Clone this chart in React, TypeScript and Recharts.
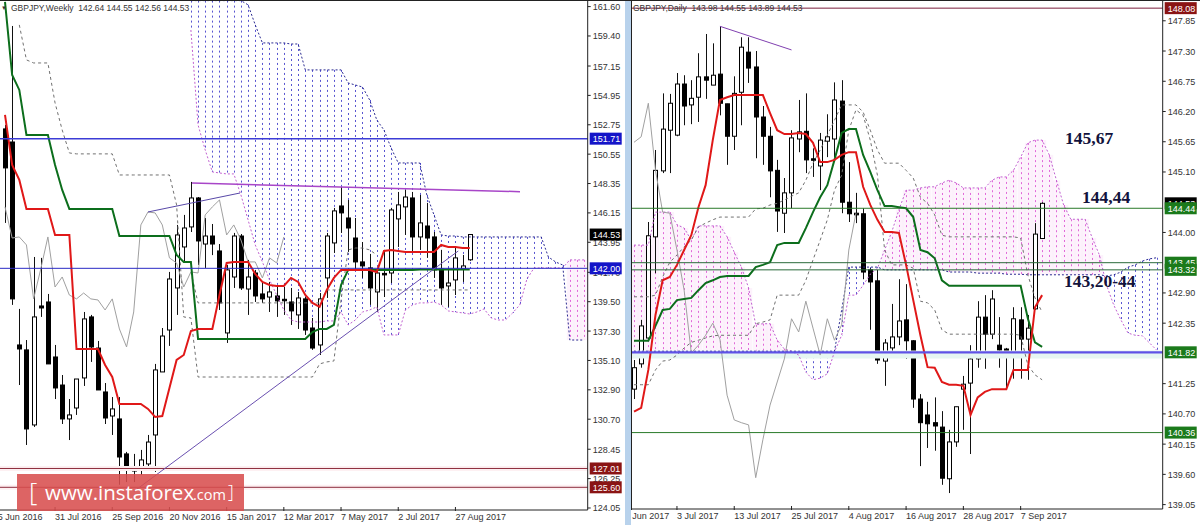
import { Bar, ComposedChart, Line, ReferenceLine, XAxis, YAxis } from "recharts";

// ---- weekly panel ----
const weeklyOpen = [152.44,151.46,136.26,135.89,130.27,139.18,139.48,135.36,133.26,130.72,131.54,133.79,138.36,136.03,132.74,130.94,130.72,128.10,126.82,126.90,127.35,129.52,134.24,137.38,140.53,143.60,145.10,147.27,143.82,144.42,143.30,137.16,141.35,144.42,140.45,141.65,140.08,139.85,139.93,139.68,139.48,138.51,139.71,137.53,136.26,141.28,143.90,146.67,145.77,144.27,142.48,142.03,140.23,141.62,141.65,145.70,146.60,147.27,144.35,145.17,144.35,141.95,140.68,141.13,141.95,142.64];
const weeklyHigh = [152.74,160.15,138.96,136.63,142.85,142.78,140.08,136.26,134.01,132.21,133.71,138.73,138.51,136.56,133.41,132.36,132.36,128.25,128.10,128.40,129.52,134.84,137.53,141.73,145.25,146.00,148.47,147.34,145.77,145.32,143.82,142.25,144.65,144.57,142.63,141.88,140.98,140.98,140.60,140.60,140.53,140.23,139.85,138.28,140.15,144.65,146.52,148.09,147.12,145.77,143.97,143.08,142.03,143.38,146.52,147.72,147.87,147.72,147.49,146.90,144.72,143.38,142.03,143.52,143.00,144.55];
const weeklyLow = [145.40,139.26,133.26,128.77,130.12,138.36,134.84,132.21,130.34,129.14,131.02,133.19,134.99,132.89,130.34,129.52,125.47,125.99,125.99,126.52,126.90,126.75,134.24,136.19,138.51,142.48,144.72,142.25,142.03,142.99,138.88,136.41,140.53,140.38,138.51,139.48,139.41,138.73,138.36,138.51,137.76,137.46,137.01,135.89,135.51,139.78,143.15,144.65,143.23,141.88,141.28,139.26,138.73,139.85,140.90,143.60,144.50,143.23,143.38,142.78,141.28,139.26,139.11,140.00,140.98,142.56];
const weeklyClose = [149.52,139.71,135.96,129.97,138.36,139.03,134.84,133.04,130.72,131.02,133.71,138.21,136.11,132.89,130.79,131.47,127.87,126.97,126.97,127.65,128.99,134.39,136.93,141.20,144.50,145.02,147.27,144.05,144.42,143.82,139.41,141.88,144.42,140.53,141.35,139.93,139.71,140.23,139.56,139.60,138.81,139.78,137.38,136.03,139.71,144.42,146.30,146.15,145.02,142.48,142.18,140.53,141.65,141.55,146.37,146.75,147.34,144.35,145.40,144.27,141.88,140.53,140.90,142.78,142.18,144.53];
const weeklyTenkan = [153.49,149.74,148.62,146.45,146.45,146.45,146.45,144.5,144.5,144.5,135.96,135.96,135.96,135.96,134.76,133.86,131.84,131.84,131.84,131.84,131.47,130.87,130.94,133.04,135.14,135.51,137.31,137.46,137.46,137.46,140.0,142.4,142.48,142.48,142.48,141.58,140.98,140.75,140.68,140.68,141.28,140.98,140.0,139.41,139.11,140.38,141.28,141.88,141.88,141.88,141.88,141.88,141.73,143.3,143.38,143.3,143.23,143.23,143.23,143.23,143.23,143.75,143.6,143.6,143.52,143.52];
const weeklyKijun = [161.95,156.48,155.36,151.99,151.99,151.99,151.99,149.74,147.87,146.45,146.45,146.45,146.45,146.45,146.45,146.45,144.42,144.42,144.42,144.42,144.42,144.42,144.42,144.42,143.0,142.48,142.48,136.71,136.71,136.71,136.71,136.71,136.71,136.71,136.71,136.71,136.71,136.71,136.71,136.71,136.71,136.71,136.71,137.23,137.46,137.46,137.76,140.75,141.88,141.88,141.88,141.88,141.88,141.88,141.88,141.88,141.88,141.88,141.91,141.91,141.91,141.91,141.91,141.91,141.91,141.91];
const weeklyChikou = [146.6,144.27,144.35,143.75,139.71,141.95,144.35,140.6,141.35,140.0,139.71,140.15,139.71,139.63,138.88,139.71,137.46,136.11,138.73,145.25,146.22,146.15,145.25,142.78,142.4,140.6,141.73,141.65,146.0,146.6,147.12,144.5,145.25,144.12,142.48,142.48,141.28,142.78,142.4,144.35];
const weeklyOuterDash = [null,null,160.23,157.61,157.38,157.38,157.38,154.39,152.36,150.64,150.57,150.57,150.57,150.57,150.57,150.57,148.99,148.99,148.99,148.99,148.99,148.99,148.99,148.99,146.75,138.36,138.28,133.86,133.86,133.86,133.86,133.86,133.86,133.86,133.86,133.86,133.86,133.86,133.86,133.86,133.86,133.86,133.86,133.86,134.84,134.99,135.06,139.63,143.38,143.52,143.52,143.38,143.0];
const weeklyInnerDash = [null,null,null,null,null,null,null,null,null,null,null,null,null,null,null,null,null,null,null,null,null,null,null,null,null,null,141.73,139.41,139.41,139.41,139.41,139.41,139.41,139.41,139.41,139.41,139.41,139.41,139.41,139.41,139.41,139.41,139.41,139.41,139.41,140.38,140.38,140.38,140.38,140.38,140.38,140.38,140.38,140.38,140.38,140.38,140.38,140.38,140.38,140.38,140.38,140.38,140.38,140.38,140.38,140.38];
// cloud starts at candle 26 and runs 16 bars past the last candle
const weeklySpanA = [159.85,152.74,150.87,149.22,149.14,149.07,149.07,147.49,145.62,143.75,142.48,141.13,140.0,138.88,138.13,137.98,137.98,137.98,137.98,138.06,138.06,138.73,137.76,138.13,138.73,138.88,139.11,137.01,137.01,137.01,138.88,139.26,139.41,139.41,139.48,139.26,138.81,138.73,138.66,138.58,138.73,138.96,138.28,138.13,138.13,138.66,139.26,141.2,142.03,142.03,142.03,142.03,142.03,142.63,142.63,142.63];
const weeklySpanB = [162.05,162.05,162.05,162.05,162.05,162.05,162.05,162.05,161.73,160.23,158.88,158.88,158.88,158.88,158.8,158.8,156.86,156.86,156.86,156.86,156.86,156.86,155.88,155.73,155.58,154.61,153.11,152.36,151.02,149.89,149.89,149.89,149.89,147.49,146.0,144.5,144.42,144.42,144.35,144.35,144.35,144.35,144.35,144.35,144.35,144.35,144.35,144.35,144.35,144.35,142.85,142.48,142.25,136.63,136.63,136.63];
const weeklyTicks = [161.6,159.4,157.15,154.95,152.75,150.55,148.35,146.15,143.95,141.7,139.5,137.3,135.1,132.9,130.7,128.45,126.25,124.05];
const weeklyTags = [
  { value: 151.71, fill: "#1414c8" },
  { value: 144.53, fill: "#000000" },
  { value: 142.0, fill: "#1414c8" },
  { value: 127.01, fill: "#8a1414" },
  { value: 125.6, fill: "#8a1414" },
];
const weeklyDates = [
  { at: -1, label: "5 Jun 2016" }, { at: 7, label: "31 Jul 2016" }, { at: 15, label: "25 Sep 2016" },
  { at: 23, label: "20 Nov 2016" }, { at: 31, label: "15 Jan 2017" }, { at: 39, label: "12 Mar 2017" },
  { at: 47, label: "7 May 2017" }, { at: 55, label: "2 Jul 2017" }, { at: 63, label: "27 Aug 2017" },
];
const weeklyBands: { value: number; stroke: string; width: number }[] = [
  { value: 127.01, stroke: "#fdf0f2", width: 5 },
  { value: 125.6, stroke: "#fdf0f2", width: 5 },
];
const weeklyLevels = [
  { value: 151.71, stroke: "#3c3cd6", width: 1.5 },
  { value: 142.0, stroke: "#2a2ac4", width: 1 },
  { value: 127.01, stroke: "#8c2c3c", width: 1 },
  { value: 125.6, stroke: "#8c2c3c", width: 1 },
];
const weeklyTrends = [
  { from: [26.15, 148.39], to: [72.03, 147.74], stroke: "#a846c8", width: 1.5 },
  { from: [20, 146.22], to: [32.87, 147.64], stroke: "#5848a8", width: 1 },
  { from: [18, 125.28], to: [63.4, 143.3], stroke: "#6a50b0", width: 1 },
];

// ---- daily panel ----
const dailyOpen = [141.15,141.61,142.08,143.92,145.12,145.86,145.77,146.70,146.32,146.46,146.83,146.68,146.88,146.34,145.75,146.55,147.28,147.01,146.10,145.75,145.13,144.35,144.72,145.70,145.84,145.34,145.21,145.66,145.70,146.39,144.55,144.35,144.34,143.32,143.12,141.66,141.90,142.10,142.41,142.03,140.97,140.68,140.54,140.46,139.52,140.19,141.15,141.26,141.70,142.46,142.15,141.95,141.88,141.77,142.41,142.06,142.61,143.89];
const dailyHigh = [141.68,142.41,144.19,145.50,146.53,146.52,146.90,146.86,146.77,147.26,147.61,147.44,147.75,146.34,146.84,147.55,147.55,147.30,146.30,145.92,145.32,144.99,145.86,146.41,146.53,145.53,145.81,146.15,146.73,146.77,145.28,144.72,144.44,143.35,143.32,142.06,142.70,143.15,143.06,142.04,141.06,140.92,141.00,140.75,140.41,140.83,141.39,141.95,142.75,142.86,142.95,142.46,141.90,142.64,142.64,142.50,144.17,144.55];
const dailyLow = [140.97,141.54,142.04,143.26,145.08,145.08,145.75,145.95,145.97,146.01,146.43,146.68,146.13,145.23,145.50,145.95,146.72,145.35,145.23,144.64,144.01,143.99,144.44,145.46,145.08,145.01,144.77,145.37,145.37,144.35,144.19,144.17,143.15,142.23,141.61,141.21,141.84,141.95,141.70,140.81,139.75,140.08,140.03,139.41,139.26,140.10,140.41,139.97,141.54,141.52,142.06,141.54,141.15,141.34,141.34,141.32,142.59,143.88];
const dailyClose = [141.54,142.30,143.94,145.13,145.88,146.35,146.70,146.30,146.44,146.83,146.77,146.86,146.35,145.75,146.53,147.37,146.99,146.10,145.75,145.12,144.39,144.72,145.72,145.83,145.32,145.32,145.68,145.74,146.41,144.55,144.34,144.32,143.28,143.10,141.68,141.99,142.10,142.39,142.03,140.97,140.54,140.52,140.48,139.53,140.19,140.83,141.24,141.70,142.46,142.15,142.79,141.86,141.77,142.43,142.06,142.26,143.97,144.53];
const dailyTenkan = [140.74,140.81,141.5,142.5,143.13,143.19,143.41,143.68,143.95,144.46,144.86,145.68,146.41,146.46,146.5,146.5,146.5,146.5,146.5,146.17,145.86,145.79,145.79,145.81,145.79,145.63,145.28,145.28,145.32,145.41,145.46,145.46,144.83,144.5,144.23,144.01,144.01,143.99,143.41,142.77,142.13,141.55,141.54,141.28,141.23,141.23,141.21,140.68,141.0,141.1,141.15,141.15,141.15,141.5,141.5,141.5,142.64,142.86];
const dailyKijun = [142.03,142.03,142.03,142.3,142.59,142.61,142.77,142.79,142.81,142.95,143.08,143.13,143.19,143.21,143.21,143.21,143.21,143.37,143.41,143.46,143.77,143.81,143.81,143.81,144.08,144.37,144.64,144.86,145.32,145.81,145.88,145.88,145.41,145.1,144.77,144.48,144.48,144.46,144.44,144.28,143.68,143.64,143.53,143.13,143.03,143.03,143.03,143.03,143.03,143.03,143.03,143.03,143.03,143.03,143.03,142.44,142.0,141.92];
const dailyChikou = [145.64,145.74,146.35,145.13,144.37,144.35,143.68,142.95,141.81,141.95,142.13,142.35,142.06,141.04,140.59,140.54,140.5,139.54,140.23,140.86,141.28,141.7,142.43,142.19,142.75,142.26,141.77,142.43,142.04,142.32,143.68,144.35];
const dailyUpperDash = [142.83,142.83,142.83,142.86,143.19,143.46,143.59,143.74,143.86,144.1,144.17,144.23,144.28,144.28,144.28,144.28,144.28,144.43,144.44,144.5,144.53,144.59,144.66,144.72,144.95,145.26,145.5,145.77,146.04,146.32,146.32,146.32,146.19,145.86,145.5,145.26,145.26,145.26,145.13,144.99,144.64,144.53,144.32,143.95,143.92,143.92,143.92,143.92,143.92,143.92,143.92,143.92,143.92,143.92,143.9,143.23,142.81,142.55];
const dailyLowerDash = [141.23,141.23,141.23,141.5,141.66,141.68,141.77,141.9,142.0,142.04,142.08,142.12,142.13,142.13,142.13,142.13,142.13,142.34,142.37,142.41,142.86,142.86,142.86,142.86,143.13,143.5,143.86,144.23,144.77,145.04,145.86,146.23,146.13,145.68,145.04,143.68,143.41,143.41,143.41,143.35,142.75,142.72,142.59,142.23,142.15,142.15,142.15,142.15,142.15,142.15,142.15,142.15,142.15,142.15,142.13,141.59,141.41,141.32];
const dailySpanA = [143.77,143.77,143.77,144.37,144.37,144.37,144.14,144.08,143.86,144.12,144.12,144.12,144.12,143.92,143.64,143.37,142.99,142.32,142.34,142.34,142.04,141.88,141.84,141.77,141.46,141.32,141.35,141.43,141.83,142.13,142.86,142.86,143.04,143.24,143.35,143.68,144.01,144.41,144.77,144.77,144.81,144.83,144.83,144.9,144.95,144.9,144.81,144.81,144.81,144.81,144.95,145.01,145.01,145.13,145.37,145.63,145.68,145.68,145.41,144.95,144.5,144.24,144.24,144.24,143.9,143.59,143.04,142.68,142.41,142.17,142.13,142.12,141.99,141.86];
const dailySpanB = [141.84,141.84,141.84,141.84,141.84,141.84,141.84,141.84,141.84,141.84,141.84,141.84,141.84,141.84,141.84,141.84,141.84,141.84,141.84,141.84,141.84,141.84,141.84,141.84,141.84,141.84,141.84,141.84,141.84,142.59,143.37,143.37,143.37,143.37,143.37,143.32,143.32,143.32,143.32,143.32,143.32,143.32,143.32,143.32,143.28,143.28,143.28,143.28,143.26,143.26,143.26,143.26,143.24,143.24,143.24,143.23,143.23,143.23,143.23,143.23,143.23,143.23,143.23,143.23,143.23,143.23,143.21,143.23,143.28,143.37,143.41,143.48,143.52,143.54];
const dailyTicks = [147.85,147.3,146.75,146.2,145.65,145.1,144.0,142.9,142.35,141.25,140.7,140.15,139.6,139.05];
const dailyTags = [
  { value: 148.08, fill: "#8a1414" },
  { value: 144.53, fill: "#000000" },
  { value: 144.44, fill: "#1b7a1b" },
  { value: 143.45, fill: "#1b7a1b" },
  { value: 143.32, fill: "#1b7a1b" },
  { value: 141.82, fill: "#1b7a1b" },
  { value: 140.36, fill: "#1b7a1b" },
];
const dailyDates = [
  { at: -2, label: "21 Jun 2017" }, { at: 6, label: "3 Jul 2017" }, { at: 14, label: "13 Jul 2017" },
  { at: 22, label: "25 Jul 2017" }, { at: 30, label: "4 Aug 2017" }, { at: 38, label: "16 Aug 2017" },
  { at: 46, label: "28 Aug 2017" }, { at: 54, label: "7 Sep 2017" },
];
const dailyBands = [{ value: 141.78, stroke: "#e6f6f2", width: 8 }];
const dailyLevels = [
  { value: 148.08, stroke: "#7c1c3c", width: 1 },
  { value: 144.44, stroke: "#2a7a2a", width: 1 },
  { value: 143.45, stroke: "#2a6a3a", width: 1 },
  { value: 143.32, stroke: "#2a6a3a", width: 1 },
  { value: 141.82, stroke: "#5f52e6", width: 2.2 },
  { value: 140.36, stroke: "#2a7a2a", width: 1 },
];
const dailyTrends = [{ from: [12, 147.75], to: [22, 147.32], stroke: "#8040b0", width: 1 }];

const AXIS_FONT = "'Liberation Sans', Arial, sans-serif";
const CLOUD_UP = "#dc50d2";
const CLOUD_DOWN = "#3a36c8";

type Row = Record<string, any>;

function buildRows(
  slots: number,
  cloudStart: number,
  s: { o: number[]; h: number[]; l: number[]; c: number[]; tenkan: number[]; kijun: number[]; chikou: number[]; dashA: (number | null)[]; dashB: (number | null)[]; spanA: number[]; spanB: number[] },
): Row[] {
  return Array.from({ length: slots }).map((_, i) => {
    const a = s.spanA[i - cloudStart];
    const b = s.spanB[i - cloudStart];
    const hasCandle = s.o[i] !== undefined;
    return {
      i,
      open: s.o[i],
      high: s.h[i],
      low: s.l[i],
      close: s.c[i],
      range: hasCandle ? [s.l[i], s.h[i]] : null,
      tenkan: s.tenkan[i] ?? null,
      kijun: s.kijun[i] ?? null,
      chikou: s.chikou[i] ?? null,
      dashA: s.dashA[i] ?? null,
      dashB: s.dashB[i] ?? null,
      spanA: a ?? null,
      spanB: b ?? null,
      cloud: a !== undefined ? [Math.min(a, b), Math.max(a, b)] : null,
    };
  });
}

const weeklyRows = buildRows(82, 26, {
  o: weeklyOpen, h: weeklyHigh, l: weeklyLow, c: weeklyClose,
  tenkan: weeklyTenkan, kijun: weeklyKijun, chikou: weeklyChikou,
  dashA: weeklyOuterDash, dashB: weeklyInnerDash, spanA: weeklySpanA, spanB: weeklySpanB,
});
const dailyRows = buildRows(74, 0, {
  o: dailyOpen, h: dailyHigh, l: dailyLow, c: dailyClose,
  tenkan: dailyTenkan, kijun: dailyKijun, chikou: dailyChikou,
  dashA: dailyUpperDash, dashB: dailyLowerDash, spanA: dailySpanA, spanB: dailySpanB,
});

function Candle(props: any) {
  const { x, y, width, height, payload } = props;
  if (payload.open === undefined || !height) return null;
  const cx = Math.round(x + width / 2) + 0.5;
  const perPrice = Math.abs(height) / (payload.high - payload.low);
  const top = Math.min(y, y + height);
  const at = (p: number) => top + (payload.high - p) * perPrice;
  const up = payload.close >= payload.open;
  const bodyTop = at(Math.max(payload.open, payload.close));
  const bodyH = Math.max(at(Math.min(payload.open, payload.close)) - bodyTop, 1.5);
  return (
    <g>
      <line x1={cx} x2={cx} y1={top} y2={top + Math.abs(height)} stroke="#111" strokeWidth={1} />
      <rect x={cx - 2} y={bodyTop} width={4} height={bodyH} fill={up ? "#fff" : "#000"} stroke="#000" strokeWidth={1} />
    </g>
  );
}

function CloudStroke(props: any) {
  const { x, y, width, height, payload } = props;
  if (payload.cloud === null || !height) return null;
  const cx = Math.round(x + width / 2) + 0.5;
  const up = payload.spanA >= payload.spanB;
  const color = up ? CLOUD_UP : CLOUD_DOWN;
  const top = Math.min(y, y + height);
  const h = Math.abs(height);
  return (
    <g>
      {up && <rect x={cx - 3.6} y={top} width={7.2} height={h} fill="#f8d4f4" fillOpacity={0.3} />}
      <line x1={cx} x2={cx} y1={top} y2={top + h} stroke={color} strokeOpacity={0.85} strokeWidth={1} strokeDasharray="2 3" />
    </g>
  );
}

function priceTick(tags: { value: number; fill: string }[]) {
  return function PriceTick(props: any) {
    const { x, y, payload } = props;
    const tag = tags.find((t) => t.value === payload.value);
    if (tag) {
      return (
        <g>
          <rect x={x + 2} y={y - 6} width={32} height={12} fill={tag.fill} />
          <text x={x + 5} y={y + 3.5} fill="#fff" fontSize={9} fontFamily={AXIS_FONT}>{payload.value.toFixed(2)}</text>
        </g>
      );
    }
    return (
      <g>
        <line x1={x} x2={x + 3} y1={y} y2={y} stroke="#222" />
        <text x={x + 5} y={y + 3.5} fill="#333" fontSize={9} fontFamily={AXIS_FONT}>{payload.value.toFixed(2)}</text>
      </g>
    );
  };
}

function dateTick(dates: { at: number; label: string }[]) {
  return function DateTick(props: any) {
    const { x, y, payload } = props;
    const d = dates.find((t) => t.at === payload.value);
    return (
      <g>
        <line x1={x} x2={x} y1={y - 3} y2={y + 1} stroke="#222" />
        <text x={x} y={y + 10} fill="#333" fontSize={9} fontFamily={AXIS_FONT}>{d ? d.label : ""}</text>
      </g>
    );
  };
}

function Ichimoku({ rows, width, height, domain, xDomain, yWidth, axisH, ticks, tags, dates, bands, levels, trends, barW }: any) {
  return (
    <ComposedChart width={width} height={height} data={rows} margin={{ top: 1, right: 0, bottom: 0, left: 0 }} barGap={-barW} barSize={barW}>
      <XAxis
        dataKey="i"
        type="number"
        domain={xDomain}
        allowDataOverflow
        ticks={dates.map((d: any) => d.at)}
        interval={0}
        height={axisH}
        tickLine={false}
        tickSize={0}
        tickMargin={0}
        axisLine={{ stroke: "#222" }}
        tick={dateTick(dates)}
      />
      <YAxis
        orientation="right"
        type="number"
        domain={domain}
        allowDataOverflow
        width={yWidth}
        ticks={[...ticks, ...tags.map((t: any) => t.value)]}
        interval={0}
        tickLine={false}
        tickSize={0}
        tickMargin={0}
        axisLine={{ stroke: "#222" }}
        tick={priceTick(tags)}
      />
      {bands.map((l: any, n: number) => (
        <ReferenceLine key={`band-${n}`} y={l.value} stroke={l.stroke} strokeWidth={l.width} />
      ))}
      <Bar dataKey="cloud" shape={CloudStroke} isAnimationActive={false} />
      <Line dataKey="spanA" stroke="#c060d0" strokeWidth={1} strokeDasharray="2 2" dot={false} isAnimationActive={false} />
      <Line dataKey="spanB" stroke="#2a2a90" strokeWidth={1} strokeDasharray="2 2" dot={false} isAnimationActive={false} />
      <Line dataKey="dashA" stroke="#707070" strokeWidth={1} strokeDasharray="3 3" dot={false} isAnimationActive={false} />
      <Line dataKey="dashB" stroke="#707070" strokeWidth={1} strokeDasharray="3 3" dot={false} isAnimationActive={false} />
      <Line dataKey="chikou" stroke="#a0a0a0" strokeWidth={1} dot={false} isAnimationActive={false} />
      <Line dataKey="kijun" stroke="#0c6e1c" strokeWidth={2} dot={false} isAnimationActive={false} />
      <Line dataKey="tenkan" stroke="#e01818" strokeWidth={2} dot={false} isAnimationActive={false} />
      <Bar dataKey="range" shape={Candle} isAnimationActive={false} />
      {levels.map((l: any, n: number) => (
        <ReferenceLine key={n} y={l.value} stroke={l.stroke} strokeWidth={l.width} />
      ))}
      {trends.map((t: any, n: number) => (
        <ReferenceLine
          key={n}
          segment={[{ x: t.from[0], y: t.from[1] }, { x: t.to[0], y: t.to[1] }]}
          stroke={t.stroke}
          strokeWidth={t.width}
        />
      ))}
    </ComposedChart>
  );
}

const headerStyle: any = { position: "absolute", top: 3, fontFamily: AXIS_FONT, fontSize: 8.5, lineHeight: "11px", color: "#333", whiteSpace: "pre" };
const noteStyle: any = { position: "absolute", fontFamily: "'Liberation Serif', serif", fontWeight: 700, fontSize: 17.5, lineHeight: "18px", color: "#12123c", whiteSpace: "pre" };

export default function App() {
  return (
    <div style={{ position: "fixed", left: 0, top: 0, width: 1200, height: 525, background: "#fff", overflow: "hidden" }}>
      <div style={{ position: "absolute", left: 0, top: 0, width: 625, height: 525, overflow: "hidden" }}>
        <Ichimoku
          rows={weeklyRows} width={625} height={525} domain={[123.9, 162.02]} xDomain={[-0.7, 81.5]}
          yWidth={37.3} axisH={15} ticks={weeklyTicks} tags={weeklyTags} dates={weeklyDates}
          bands={weeklyBands} levels={weeklyLevels} trends={weeklyTrends} barW={5}
        />
      </div>
      <div style={{ position: "absolute", left: 625, top: 0, width: 6, height: 525, background: "#b8d2ec" }} />
      <div style={{ position: "absolute", left: 631, top: 0, width: 569, height: 525, overflow: "hidden" }}>
        <Ichimoku
          rows={dailyRows} width={569} height={525} domain={[138.97, 148.21]} xDomain={[-0.42, 73.84]}
          yWidth={37.3} axisH={16} ticks={dailyTicks} tags={dailyTags} dates={dailyDates}
          bands={dailyBands} levels={dailyLevels} trends={dailyTrends} barW={5}
        />
      </div>
      <div style={{ position: "absolute", left: 0, top: 0, width: 1200, height: 1, background: "#222" }} />
      <div style={{ position: "absolute", left: 631, top: 0, width: 1, height: 510, background: "#222" }} />

      <div style={{ ...headerStyle, left: 1, fontSize: 6 }}>▼</div>
      <div style={{ ...headerStyle, left: 11 }}>GBPJPY,Weekly  142.64 144.55 142.56 144.53</div>
      <div style={{ ...headerStyle, left: 633 }}>GBPJPY,Daily  143.98 144.55 143.89 144.53</div>

      <div style={{ ...noteStyle, left: 1065, top: 129 }}>145,67</div>
      <div style={{ ...noteStyle, left: 1082, top: 188 }}>144,44</div>
      <div style={{ ...noteStyle, left: 1064, top: 272 }}>143,20-44</div>

      <div
        style={{
          position: "absolute", left: 17, top: 474, width: 227, height: 37, background: "rgba(216,78,78,0.88)",
          color: "#fff", fontFamily: "'Open Sans', sans-serif", whiteSpace: "pre",
        }}
      >
        <span style={{ position: "absolute", left: 12, top: -1, fontSize: 26, fontWeight: 300 }}>[</span>
        <span style={{ position: "absolute", left: 28, top: 4, fontSize: 20.5, lineHeight: "29px" }}>www.instaforex</span>
        <span style={{ position: "absolute", left: 176, top: 9, fontSize: 14.5, lineHeight: "24px" }}>.com</span>
        <span style={{ position: "absolute", left: 211, top: 5, fontSize: 18, fontWeight: 300 }}>]</span>
      </div>
    </div>
  );
}
